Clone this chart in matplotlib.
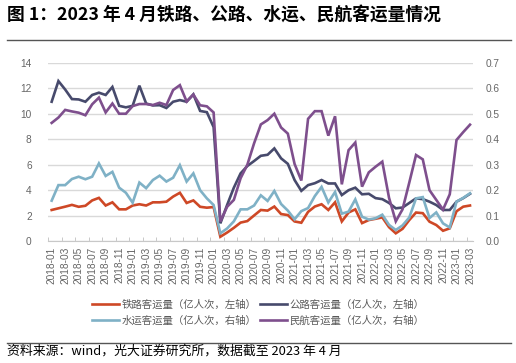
import matplotlib.pyplot as plt
import numpy as np
import pandas as pd
from matplotlib.lines import Line2D

plt.rcParams["font.family"] = ["Noto Sans CJK SC", "DejaVu Sans"]

months = pd.period_range("2018-01", "2023-03", freq="M").strftime("%Y-%m").tolist()

# 铁路客运量 (亿人次, 左轴)
rail = [2.45, 2.58, 2.71, 2.85, 2.70, 2.78, 3.20, 3.40, 2.80, 3.05,
        2.50, 2.50, 2.80, 2.90, 2.80, 3.05, 3.05, 3.10, 3.50, 3.80,
        3.00, 3.20, 2.70, 2.63, 2.68, 0.35, 0.68, 1.05, 1.46, 1.58,
        2.02, 2.45, 2.40, 2.72, 2.13, 2.05, 1.55, 1.45, 2.30, 2.72,
        2.90, 2.45, 3.05, 1.55, 2.25, 2.50, 1.42, 1.66, 1.76, 1.87,
        1.10, 0.62, 0.97, 1.66, 2.25, 2.20, 1.53, 1.27, 0.82, 1.01,
        2.35, 2.71, 2.80]

# 公路客运量 (亿人次, 左轴)
road = [10.94, 12.56, 11.90, 11.15, 11.12, 10.94, 11.47, 11.65, 11.47, 12.10,
        10.62, 10.50, 10.62, 12.20, 10.80, 10.65, 10.67, 10.45, 10.94, 11.07,
        10.94, 11.52, 10.22, 10.12, 8.95, 1.40, 2.84, 4.20, 5.32, 5.90,
        6.29, 6.70, 6.78, 7.28, 6.50, 6.07, 4.80, 3.95, 4.40, 4.55,
        4.80, 4.53, 4.53, 3.62, 4.00, 4.20, 3.68, 3.72, 3.38, 3.30,
        3.00, 2.58, 2.64, 3.00, 3.36, 3.30, 3.10, 2.84, 2.45, 2.45,
        3.10, 3.38, 3.72]

# 水运客运量 (亿人次, 右轴)
water = [0.159, 0.220, 0.220, 0.244, 0.253, 0.243, 0.253, 0.305, 0.256, 0.272,
         0.210, 0.190, 0.151, 0.230, 0.208, 0.240, 0.257, 0.234, 0.249, 0.298,
         0.234, 0.266, 0.200, 0.168, 0.142, 0.031, 0.050, 0.078, 0.125, 0.125,
         0.140, 0.180, 0.158, 0.197, 0.146, 0.120, 0.086, 0.118, 0.130, 0.177,
         0.213, 0.152, 0.193, 0.108, 0.116, 0.164, 0.096, 0.085, 0.090, 0.104,
         0.064, 0.044, 0.062, 0.093, 0.168, 0.173, 0.091, 0.113, 0.070, 0.054,
         0.155, 0.170, 0.188]

# 民航客运量 (亿人次, 右轴)
air = [0.464, 0.485, 0.515, 0.509, 0.504, 0.494, 0.537, 0.563, 0.505, 0.540,
       0.500, 0.500, 0.530, 0.538, 0.538, 0.534, 0.543, 0.534, 0.593, 0.612,
       0.548, 0.575, 0.533, 0.529, 0.505, 0.077, 0.135, 0.162, 0.247, 0.300,
       0.384, 0.458, 0.475, 0.500, 0.446, 0.422, 0.303, 0.238, 0.480, 0.510,
       0.510, 0.414, 0.490, 0.223, 0.357, 0.387, 0.214, 0.270, 0.292, 0.312,
       0.170, 0.078, 0.125, 0.230, 0.338, 0.321, 0.200, 0.162, 0.124, 0.184,
       0.397, 0.428, 0.457]

labels = ["铁路客运量（亿人次，左轴）", "公路客运量（亿人次，左轴）",
          "水运客运量（亿人次，右轴）", "民航客运量（亿人次，右轴）"]
colors = ["#CE4826", "#474A6C", "#7FB1C6", "#7E4F8D"]

tick_color = "#666666"
tick_font = "Liberation Sans"

x = np.arange(len(months))

fig = plt.figure(figsize=(5.16, 3.63), dpi=100)
ax = fig.add_axes([0.0936, 0.3355, 0.8238, 0.4917])
ax2 = ax.twinx()

l1, = ax.plot(x, rail, color=colors[0], lw=1.9, solid_joinstyle="miter")
l2, = ax.plot(x, road, color=colors[1], lw=1.9, solid_joinstyle="miter")
l3, = ax2.plot(x, water, color=colors[2], lw=1.9, solid_joinstyle="miter")
l4, = ax2.plot(x, air, color=colors[3], lw=1.9, solid_joinstyle="miter")

ax.set_xlim(-0.5, len(months) - 0.5)
ax.set_ylim(0, 14)
ax2.set_ylim(0, 0.7)
ax.set_yticks(np.arange(0, 15, 2))
ax2.set_yticks(np.arange(0, 0.71, 0.1))
ax2.set_yticklabels([f"{v:.1f}" for v in np.arange(0, 0.71, 0.1)])

ax.set_xticks(x[::2])
ax.set_xticklabels(months[::2], rotation=90)
ax.set_xticks(np.arange(-0.5, len(months) - 0.5, 2), minor=True)
ax.tick_params(axis="x", which="major", length=0, pad=4)
ax.tick_params(axis="x", which="minor", length=3, direction="in", color="#BFBFBF")
ax.tick_params(axis="y", length=0, pad=12)
ax2.tick_params(axis="y", length=0, pad=9)

for a in (ax, ax2):
    for side in ("top", "left", "right"):
        a.spines[side].set_visible(False)
    for lab in a.get_xticklabels() + a.get_yticklabels():
        lab.set_family(tick_font)
        lab.set_fontsize(7.3)
        lab.set_color(tick_color)
ax2.spines["bottom"].set_visible(False)
ax.spines["bottom"].set_color("#C8C8C8")

ax.grid(axis="y", color="#D9D9D9", lw=1)
ax.set_axisbelow(True)

fig.legend([l1, l3, l2, l4], [labels[0], labels[2], labels[1], labels[3]],
           ncol=2, loc="center", bbox_to_anchor=(0.5, 1 - 312.5 / 363),
           frameon=False, fontsize=7.5, handlelength=2.6, handletextpad=0.25,
           columnspacing=0.35, labelspacing=0.55, labelcolor="#595959")

fig.text(7 / 516, 1 - 16 / 363, "图 1：2023 年 4 月铁路、公路、水运、民航客运量情况",
         fontsize=12.8, fontweight="bold", va="center", ha="left")
fig.add_artist(Line2D([7 / 516, 511 / 516], [1 - 39.5 / 363] * 2,
                      color="#555555", lw=1, transform=fig.transFigure))
fig.add_artist(Line2D([7 / 516, 511 / 516], [1 - 342.5 / 363] * 2,
                      color="#555555", lw=1, transform=fig.transFigure))
fig.text(7 / 516, 1 - 351.5 / 363, "资料来源：wind，光大证券研究所，数据截至 2023 年 4 月",
         fontsize=9.3, va="center", ha="left")

fig.savefig("out.png", dpi=100)
